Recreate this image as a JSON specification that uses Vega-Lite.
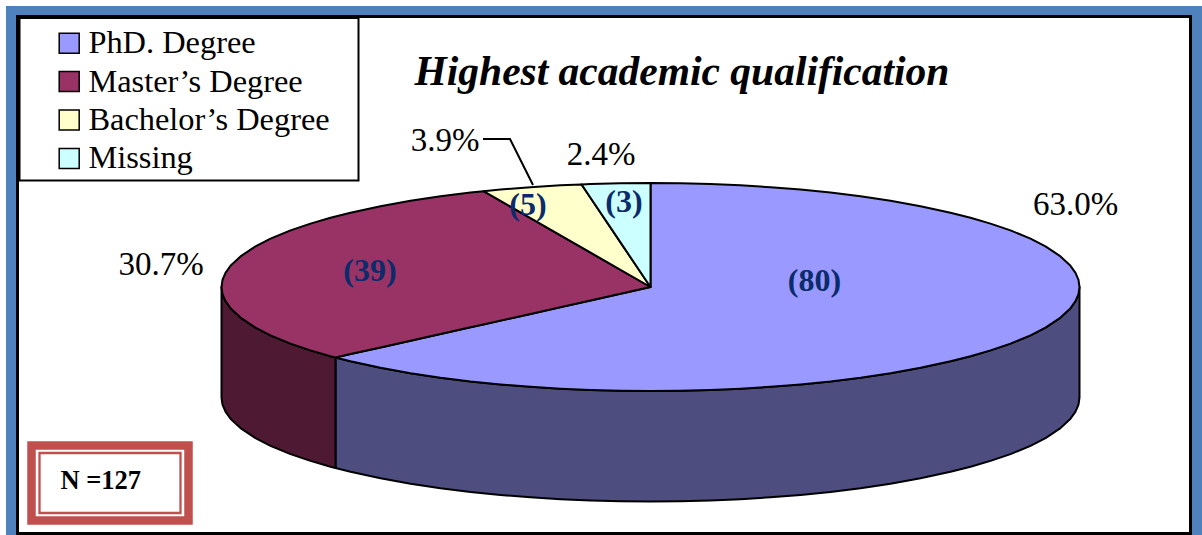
{
  "$schema": "https://vega.github.io/schema/vega-lite/v6.json",
  "width": 1202,
  "height": 535,
  "padding": 0,
  "autosize": "none",
  "background": "white",
  "config": {"view": {"stroke": null}},
  "datasets": {
    "panels": [
      {"part": "frame", "x": -644.5, "x2": 551.5, "y": 281, "y2": -248},
      {"part": "sheet", "x": -633, "x2": 540, "y": 270.5, "y2": -246.5},
      {"part": "key", "x": -631, "x2": -292, "y": 269, "y2": 106.5},
      {"part": "note_outer", "x": -619, "x2": -462, "y": -158.5, "y2": -233.5},
      {"part": "note_inner", "x": -611, "x2": -470, "y": -166, "y2": -226}
    ],
    "sides": [
      {"part": "master", "x": -429, "y": 0, "y2": -110.5},
      {"part": "master", "x": -428, "y": -7.1, "y2": -117.6},
      {"part": "master", "x": -425, "y": -14.2, "y2": -124.7},
      {"part": "master", "x": -420, "y": -21.2, "y2": -131.7},
      {"part": "master", "x": -410, "y": -30.6, "y2": -141.1},
      {"part": "master", "x": -395, "y": -40.6, "y2": -151.1},
      {"part": "master", "x": -380, "y": -48.3, "y2": -158.8},
      {"part": "master", "x": -360, "y": -56.6, "y2": -167.1},
      {"part": "master", "x": -340, "y": -63.4, "y2": -173.9},
      {"part": "master", "x": -320, "y": -69.3, "y2": -179.8},
      {"part": "master", "x": -315, "y": -70.5, "y2": -181},
      {"part": "phd", "x": -315, "y": -70.5, "y2": -181},
      {"part": "phd", "x": -300, "y": -74.3, "y2": -184.8},
      {"part": "phd", "x": -270, "y": -80.8, "y2": -191.3},
      {"part": "phd", "x": -240, "y": -86.2, "y2": -196.7},
      {"part": "phd", "x": -210, "y": -90.7, "y2": -201.2},
      {"part": "phd", "x": -180, "y": -94.4, "y2": -204.9},
      {"part": "phd", "x": -150, "y": -97.4, "y2": -207.9},
      {"part": "phd", "x": -120, "y": -99.8, "y2": -210.3},
      {"part": "phd", "x": -90, "y": -101.7, "y2": -212.2},
      {"part": "phd", "x": -60, "y": -103, "y2": -213.5},
      {"part": "phd", "x": -30, "y": -103.7, "y2": -214.2},
      {"part": "phd", "x": 0, "y": -104, "y2": -214.5},
      {"part": "phd", "x": 30, "y": -103.7, "y2": -214.2},
      {"part": "phd", "x": 60, "y": -103, "y2": -213.5},
      {"part": "phd", "x": 90, "y": -101.7, "y2": -212.2},
      {"part": "phd", "x": 120, "y": -99.8, "y2": -210.3},
      {"part": "phd", "x": 150, "y": -97.4, "y2": -207.9},
      {"part": "phd", "x": 180, "y": -94.4, "y2": -204.9},
      {"part": "phd", "x": 210, "y": -90.7, "y2": -201.2},
      {"part": "phd", "x": 240, "y": -86.2, "y2": -196.7},
      {"part": "phd", "x": 270, "y": -80.8, "y2": -191.3},
      {"part": "phd", "x": 300, "y": -74.3, "y2": -184.8},
      {"part": "phd", "x": 320, "y": -69.3, "y2": -179.8},
      {"part": "phd", "x": 340, "y": -63.4, "y2": -173.9},
      {"part": "phd", "x": 360, "y": -56.6, "y2": -167.1},
      {"part": "phd", "x": 380, "y": -48.3, "y2": -158.8},
      {"part": "phd", "x": 395, "y": -40.6, "y2": -151.1},
      {"part": "phd", "x": 410, "y": -30.6, "y2": -141.1},
      {"part": "phd", "x": 420, "y": -21.2, "y2": -131.7},
      {"part": "phd", "x": 425, "y": -14.2, "y2": -124.7},
      {"part": "phd", "x": 428, "y": -7.1, "y2": -117.6},
      {"part": "phd", "x": 429, "y": 0, "y2": -110.5}
    ],
    "slices": [
      {"degree": "PhD. Degree", "x": -315, "y": -70.5, "y2": -70.5},
      {"degree": "PhD. Degree", "x": -300, "y": -67.1, "y2": -74.3},
      {"degree": "PhD. Degree", "x": -270, "y": -60.4, "y2": -80.8},
      {"degree": "PhD. Degree", "x": -240, "y": -53.7, "y2": -86.2},
      {"degree": "PhD. Degree", "x": -210, "y": -47, "y2": -90.7},
      {"degree": "PhD. Degree", "x": -180, "y": -40.3, "y2": -94.4},
      {"degree": "PhD. Degree", "x": -150, "y": -33.6, "y2": -97.4},
      {"degree": "PhD. Degree", "x": -120, "y": -26.9, "y2": -99.8},
      {"degree": "PhD. Degree", "x": -90, "y": -20.1, "y2": -101.7},
      {"degree": "PhD. Degree", "x": -60, "y": -13.4, "y2": -103},
      {"degree": "PhD. Degree", "x": -30, "y": -6.7, "y2": -103.7},
      {"degree": "PhD. Degree", "x": 0, "y": 0, "y2": -104},
      {"degree": "PhD. Degree", "x": 0.1, "y": 104, "y2": -104},
      {"degree": "PhD. Degree", "x": 30, "y": 103.7, "y2": -103.7},
      {"degree": "PhD. Degree", "x": 60, "y": 103, "y2": -103},
      {"degree": "PhD. Degree", "x": 90, "y": 101.7, "y2": -101.7},
      {"degree": "PhD. Degree", "x": 120, "y": 99.8, "y2": -99.8},
      {"degree": "PhD. Degree", "x": 150, "y": 97.4, "y2": -97.4},
      {"degree": "PhD. Degree", "x": 180, "y": 94.4, "y2": -94.4},
      {"degree": "PhD. Degree", "x": 210, "y": 90.7, "y2": -90.7},
      {"degree": "PhD. Degree", "x": 240, "y": 86.2, "y2": -86.2},
      {"degree": "PhD. Degree", "x": 270, "y": 80.8, "y2": -80.8},
      {"degree": "PhD. Degree", "x": 300, "y": 74.3, "y2": -74.3},
      {"degree": "PhD. Degree", "x": 320, "y": 69.3, "y2": -69.3},
      {"degree": "PhD. Degree", "x": 340, "y": 63.4, "y2": -63.4},
      {"degree": "PhD. Degree", "x": 360, "y": 56.6, "y2": -56.6},
      {"degree": "PhD. Degree", "x": 380, "y": 48.3, "y2": -48.3},
      {"degree": "PhD. Degree", "x": 395, "y": 40.6, "y2": -40.6},
      {"degree": "PhD. Degree", "x": 410, "y": 30.6, "y2": -30.6},
      {"degree": "PhD. Degree", "x": 420, "y": 21.2, "y2": -21.2},
      {"degree": "PhD. Degree", "x": 425, "y": 14.2, "y2": -14.2},
      {"degree": "PhD. Degree", "x": 428, "y": 7.1, "y2": -7.1},
      {"degree": "PhD. Degree", "x": 429, "y": 0, "y2": 0},
      {"degree": "Master’s Degree", "x": -429, "y": 0, "y2": 0},
      {"degree": "Master’s Degree", "x": -428, "y": 7.1, "y2": -7.1},
      {"degree": "Master’s Degree", "x": -425, "y": 14.2, "y2": -14.2},
      {"degree": "Master’s Degree", "x": -420, "y": 21.2, "y2": -21.2},
      {"degree": "Master’s Degree", "x": -410, "y": 30.6, "y2": -30.6},
      {"degree": "Master’s Degree", "x": -395, "y": 40.6, "y2": -40.6},
      {"degree": "Master’s Degree", "x": -380, "y": 48.3, "y2": -48.3},
      {"degree": "Master’s Degree", "x": -360, "y": 56.6, "y2": -56.6},
      {"degree": "Master’s Degree", "x": -340, "y": 63.4, "y2": -63.4},
      {"degree": "Master’s Degree", "x": -320, "y": 69.3, "y2": -69.3},
      {"degree": "Master’s Degree", "x": -315, "y": 70.5, "y2": -70.5},
      {"degree": "Master’s Degree", "x": -300, "y": 74.3, "y2": -67.1},
      {"degree": "Master’s Degree", "x": -270, "y": 80.8, "y2": -60.4},
      {"degree": "Master’s Degree", "x": -240, "y": 86.2, "y2": -53.7},
      {"degree": "Master’s Degree", "x": -210, "y": 90.7, "y2": -47},
      {"degree": "Master’s Degree", "x": -180, "y": 94.4, "y2": -40.3},
      {"degree": "Master’s Degree", "x": -167, "y": 95.8, "y2": -37.4},
      {"degree": "Master’s Degree", "x": -120, "y": 68.8, "y2": -26.9},
      {"degree": "Master’s Degree", "x": -60, "y": 34.4, "y2": -13.4},
      {"degree": "Master’s Degree", "x": 0, "y": 0, "y2": 0},
      {"degree": "Bachelor’s Degree", "x": -167, "y": 95.8, "y2": 95.8},
      {"degree": "Bachelor’s Degree", "x": -150, "y": 97.4, "y2": 86.1},
      {"degree": "Bachelor’s Degree", "x": -120, "y": 99.8, "y2": 68.8},
      {"degree": "Bachelor’s Degree", "x": -90, "y": 101.7, "y2": 51.6},
      {"degree": "Bachelor’s Degree", "x": -69, "y": 102.6, "y2": 39.6},
      {"degree": "Bachelor’s Degree", "x": -30, "y": 44.6, "y2": 17.2},
      {"degree": "Bachelor’s Degree", "x": 0, "y": 0, "y2": 0},
      {"degree": "Missing", "x": -69, "y": 102.6, "y2": 102.6},
      {"degree": "Missing", "x": -60, "y": 103, "y2": 89.2},
      {"degree": "Missing", "x": -30, "y": 103.7, "y2": 44.6},
      {"degree": "Missing", "x": 0, "y": 104, "y2": 0}
    ],
    "leader": [
      {"x": -167.5, "y": 148},
      {"x": -140.5, "y": 148},
      {"x": -117.5, "y": 102}
    ],
    "shares": [
      {"degree": "PhD. Degree", "share": 0.63, "x": 425, "y": 82},
      {"degree": "Master’s Degree", "share": 0.307, "x": -489.5, "y": 22},
      {"degree": "Bachelor’s Degree", "share": 0.039, "x": -205.5, "y": 146},
      {"degree": "Missing", "share": 0.024, "x": -49.5, "y": 132}
    ],
    "counts": [
      {"degree": "PhD. Degree", "count": "(80)", "x": 164, "y": 6},
      {"degree": "Master’s Degree", "count": "(39)", "x": -280.5, "y": 16},
      {"degree": "Bachelor’s Degree", "count": "(5)", "x": -122.5, "y": 82},
      {"degree": "Missing", "count": "(3)", "x": -26.5, "y": 85}
    ],
    "headings": [
      {"label": "Highest academic qualification", "x": -236, "y": 214},
      {"label": "N =127", "x": -590, "y": -194}
    ]
  },
  "encoding": {
    "x": {"field": "x", "type": "quantitative", "axis": null, "scale": {"domain": [-650.5, 551.5], "nice": false, "zero": false}},
    "y": {"field": "y", "type": "quantitative", "axis": null, "stack": null, "scale": {"domain": [-248, 287], "nice": false, "zero": false}}
  },
  "layer": [
    {
      "data": {"name": "panels"},
      "transform": [{"filter": "datum.part === 'frame'"}],
      "mark": {"type": "rect", "fill": "#4f81bd"},
      "encoding": {"x2": {"field": "x2"}, "y2": {"field": "y2"}}
    },
    {
      "data": {"name": "panels"},
      "transform": [{"filter": "datum.part === 'sheet'"}],
      "mark": {"type": "rect", "fill": "white", "stroke": "black", "strokeWidth": 3},
      "encoding": {"x2": {"field": "x2"}, "y2": {"field": "y2"}}
    },
    {
      "data": {"name": "panels"},
      "transform": [{"filter": "datum.part === 'key'"}],
      "mark": {"type": "rect", "fill": "white", "stroke": "black", "strokeWidth": 2},
      "encoding": {"x2": {"field": "x2"}, "y2": {"field": "y2"}}
    },
    {
      "data": {"name": "panels"},
      "transform": [{"filter": "datum.part === 'note_outer'"}],
      "mark": {"type": "rect", "fill": "white", "stroke": "#c0504d", "strokeWidth": 8.5},
      "encoding": {"x2": {"field": "x2"}, "y2": {"field": "y2"}}
    },
    {
      "data": {"name": "panels"},
      "transform": [{"filter": "datum.part === 'note_inner'"}],
      "mark": {"type": "rect", "fill": "white", "stroke": "#c0504d", "strokeWidth": 2.3},
      "encoding": {"x2": {"field": "x2"}, "y2": {"field": "y2"}}
    },
    {
      "data": {"name": "sides"},
      "transform": [{"filter": "datum.part === 'phd'"}],
      "mark": {"type": "area", "fill": "#4d4d7f", "stroke": "black", "strokeWidth": 2, "strokeJoin": "round"},
      "encoding": {"y2": {"field": "y2"}}
    },
    {
      "data": {"name": "sides"},
      "transform": [{"filter": "datum.part === 'master'"}],
      "mark": {"type": "area", "fill": "#4d1933", "stroke": "black", "strokeWidth": 2, "strokeJoin": "round"},
      "encoding": {"y2": {"field": "y2"}}
    },
    {
      "data": {"name": "slices"},
      "mark": {"type": "area", "stroke": "black", "strokeWidth": 2, "strokeJoin": "round", "opacity": 1},
      "encoding": {
        "y2": {"field": "y2"},
        "color": {
          "field": "degree",
          "type": "nominal",
          "scale": {
            "domain": ["PhD. Degree", "Master’s Degree", "Bachelor’s Degree", "Missing"],
            "range": ["#9999ff", "#993366", "#ffffcc", "#ccffff"]
          },
          "legend": {
            "orient": "none",
            "legendX": 53,
            "legendY": 27,
            "title": null,
            "padding": 0,
            "symbolType": "square",
            "symbolSize": 400,
            "symbolStrokeColor": "black",
            "symbolStrokeWidth": 1.5,
            "symbolOpacity": 1,
            "labelFont": "Liberation Serif",
            "labelFontSize": 32.4,
            "labelColor": "black",
            "labelOffset": 3,
            "labelLimit": 320,
            "rowPadding": 5.4
          }
        }
      }
    },
    {
      "data": {"name": "leader"},
      "mark": {"type": "line", "color": "black", "strokeWidth": 2}
    },
    {
      "data": {"name": "shares"},
      "mark": {"type": "text", "font": "Liberation Serif", "fontSize": 33, "color": "black", "align": "center", "baseline": "middle"},
      "encoding": {"text": {"field": "share", "type": "quantitative", "format": ".1%"}}
    },
    {
      "data": {"name": "counts"},
      "mark": {"type": "text", "font": "Liberation Serif", "fontSize": 32, "fontWeight": "bold", "color": "#0c2b6b", "align": "center", "baseline": "middle"},
      "encoding": {"text": {"field": "count", "type": "nominal"}}
    },
    {
      "data": {"name": "headings"},
      "transform": [{"filter": "datum.label === 'Highest academic qualification'"}],
      "mark": {"type": "text", "font": "Liberation Serif", "fontSize": 41.5, "fontWeight": "bold", "fontStyle": "italic", "color": "black", "align": "left", "baseline": "middle"},
      "encoding": {"text": {"field": "label", "type": "nominal"}}
    },
    {
      "data": {"name": "headings"},
      "transform": [{"filter": "datum.label === 'N =127'"}],
      "mark": {"type": "text", "font": "Liberation Serif", "fontSize": 26.5, "fontWeight": "bold", "color": "black", "align": "left", "baseline": "middle"},
      "encoding": {"text": {"field": "label", "type": "nominal"}}
    }
  ]
}
